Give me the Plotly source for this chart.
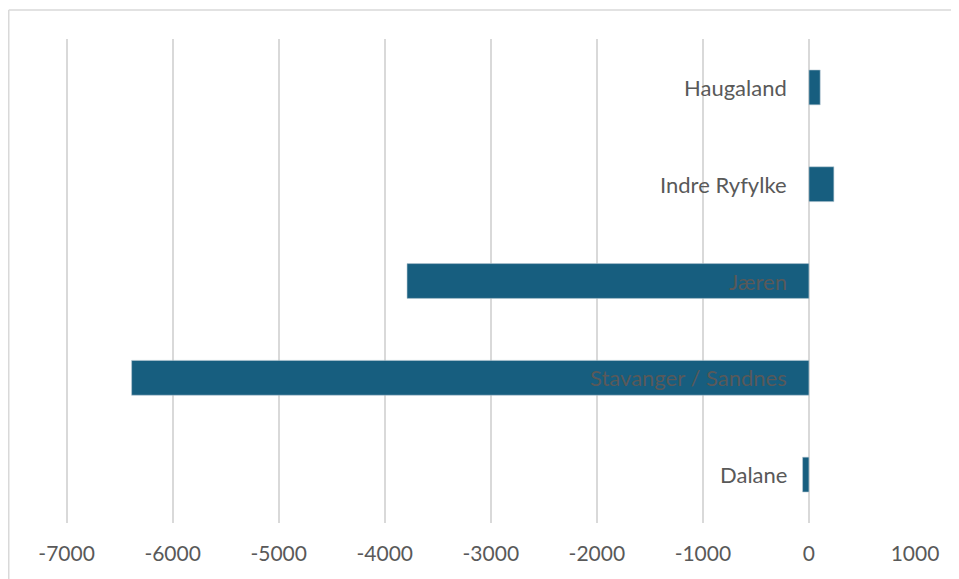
import plotly.graph_objects as go

categories = ["Dalane", "Stavanger / Sandnes", "Jæren", "Indre Ryfylke", "Haugaland"]
values = [-60, -6387, -3790, 235, 106]
tick_values = [-7000, -6000, -5000, -4000, -3000, -2000, -1000, 0, 1000]

BAR = "#175E7F"
TXT = "#595959"
GRID = "#D9D9D9"
FONT = "Lato"

fig = go.Figure()
fig.add_trace(go.Bar(
    x=values, y=categories, orientation="h",
    marker=dict(color=BAR, line=dict(color="#B8C9D3", width=0.6)),
    width=0.36, hoverinfo="x+y",
))

for c in categories:
    fig.add_annotation(x=0, y=c, xref="x", yref="y", text=c, showarrow=False,
                       xanchor="right", yanchor="middle", xshift=-20,
                       font=dict(family=FONT, size=22, color=TXT))

# outer chart-area border (top and left edges visible)
fig.add_shape(type="line", xref="paper", yref="paper", x0=-0.055, x1=1.2, y0=1.06, y1=1.06,
              line=dict(color=GRID, width=1.5))
fig.add_shape(type="line", xref="paper", yref="paper", x0=-0.055, x1=-0.055, y0=1.06, y1=-0.2,
              line=dict(color=GRID, width=1.5))

fig.update_layout(
    width=951, height=571,
    margin=dict(l=48, r=44, t=31, b=56),
    paper_bgcolor="white", plot_bgcolor="white",
    showlegend=False,
    xaxis=dict(range=[-7100, 1000], tickvals=tick_values,
               ticktext=[str(v) for v in tick_values],
               showgrid=True, gridcolor=GRID, gridwidth=1.5,
               zeroline=True, zerolinecolor=GRID, zerolinewidth=1.5,
               showline=False, ticks="", ticklabelstandoff=16,
               tickfont=dict(family=FONT, size=21, color=TXT)),
    yaxis=dict(categoryorder="array", categoryarray=categories,
               range=[-0.5, 4.5], showticklabels=False, showgrid=False,
               zeroline=False, showline=False, ticks=""),
)

fig.write_html("out.html")
